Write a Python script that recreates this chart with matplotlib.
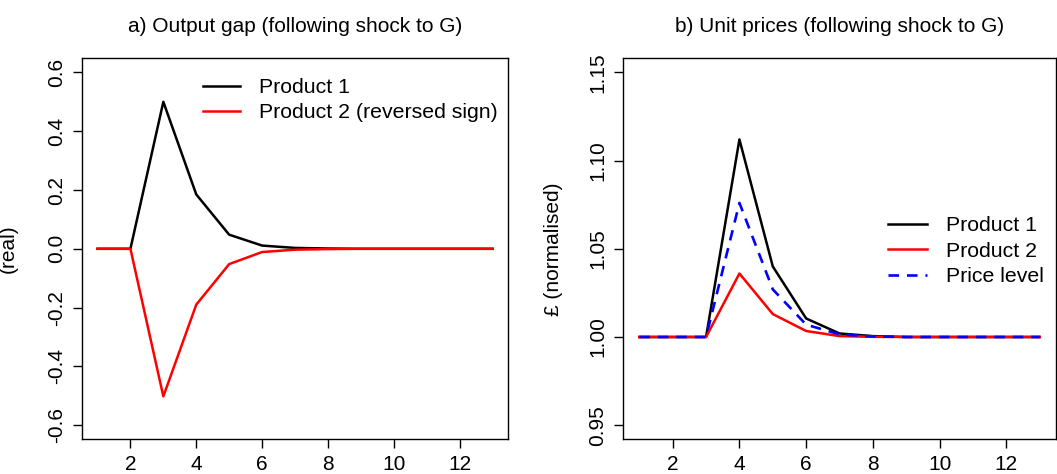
import matplotlib
matplotlib.use('Agg')
import matplotlib.pyplot as plt
import numpy as np

plt.rcParams['font.family'] = ['Liberation Sans', 'DejaVu Sans']

# periods
periods = np.arange(1, 14)

# a) output gap
gap_product1 = [0, 0, 0.5, 0.185, 0.048, 0.011, 0.003, 0.001, 0, 0, 0, 0, 0]
gap_product2 = [0, 0, -0.502, -0.19, -0.052, -0.011, -0.003, -0.001, 0, 0, 0, 0, 0]

# b) unit prices
price_product1 = [1, 1, 1, 1.112, 1.040, 1.0105, 1.002, 1.0005, 1, 1, 1, 1, 1]
price_product2 = [1, 1, 1, 1.036, 1.013, 1.0034, 1.0005, 1.0001, 1, 1, 1, 1, 1]
price_level = [1, 1, 1, 1.076, 1.027, 1.007, 1.0015, 1.0003, 1, 1, 1, 1, 1]

yticks_a = [-0.6, -0.4, -0.2, 0.0, 0.2, 0.4, 0.6]
yticks_b = [0.95, 1.00, 1.05, 1.10, 1.15]
xticks = [2, 4, 6, 8, 10, 12]

fig = plt.figure(figsize=(10.57, 4.74), dpi=100)
ax1 = fig.add_axes([0.0773, 0.0732, 0.4036, 0.8038])
ax2 = fig.add_axes([0.5897, 0.0732, 0.4091, 0.8038])

lw = 1.8
fs = 15


def style_axes(ax, yticks, fmt):
    ax.set_xticks(xticks)
    ax.set_yticks(yticks)
    ax.set_yticklabels([fmt.format(v) for v in yticks], rotation=90, va='center')
    ax.tick_params(direction='out', length=6.5, width=1, labelsize=fs, pad=5)
    for s in ax.spines.values():
        s.set_linewidth(1.0)


# panel a
ax1.plot(periods, gap_product1, color='black', lw=lw, label='Product 1')
ax1.plot(periods, gap_product2, color='red', lw=lw, label='Product 2 (reversed sign)')
ax1.set_xlim(0.52, 13.48)
ax1.set_ylim(-0.648, 0.648)
style_axes(ax1, yticks_a, '{:.1f}')
ax1.set_title('a) Output gap (following shock to G)', fontsize=fs, pad=19)
ax1.set_ylabel('(real)', fontsize=fs)
ax1.yaxis.set_label_coords(-0.149, 0.5)
ax1.legend(loc='center left', bbox_to_anchor=(0.284, 0.89), frameon=False,
           fontsize=15.3, borderpad=0, borderaxespad=0, handlelength=1.75,
           handletextpad=0.9, labelspacing=0.3)

# panel b
ax2.plot(periods, price_product1, color='black', lw=lw, label='Product 1')
ax2.plot(periods, price_product2, color='red', lw=lw, label='Product 2')
ax2.plot(periods, price_level, color='blue', lw=1.9, linestyle=(0, (4, 3)),
         label='Price level')
ax2.set_xlim(0.52, 13.48)
ax2.set_ylim(0.942, 1.158)
style_axes(ax2, yticks_b, '{:.2f}')
ax2.set_title('b) Unit prices (following shock to G)', fontsize=fs, pad=19)
ax2.set_ylabel('£ (normalised)', fontsize=fs)
ax2.yaxis.set_label_coords(-0.139, 0.5)
ax2.legend(loc='center left', bbox_to_anchor=(0.612, 0.494), frameon=False,
           fontsize=15.3, borderpad=0, borderaxespad=0, handlelength=1.85,
           handletextpad=0.9, labelspacing=0.3)

fig.savefig('out.png', dpi=100)
